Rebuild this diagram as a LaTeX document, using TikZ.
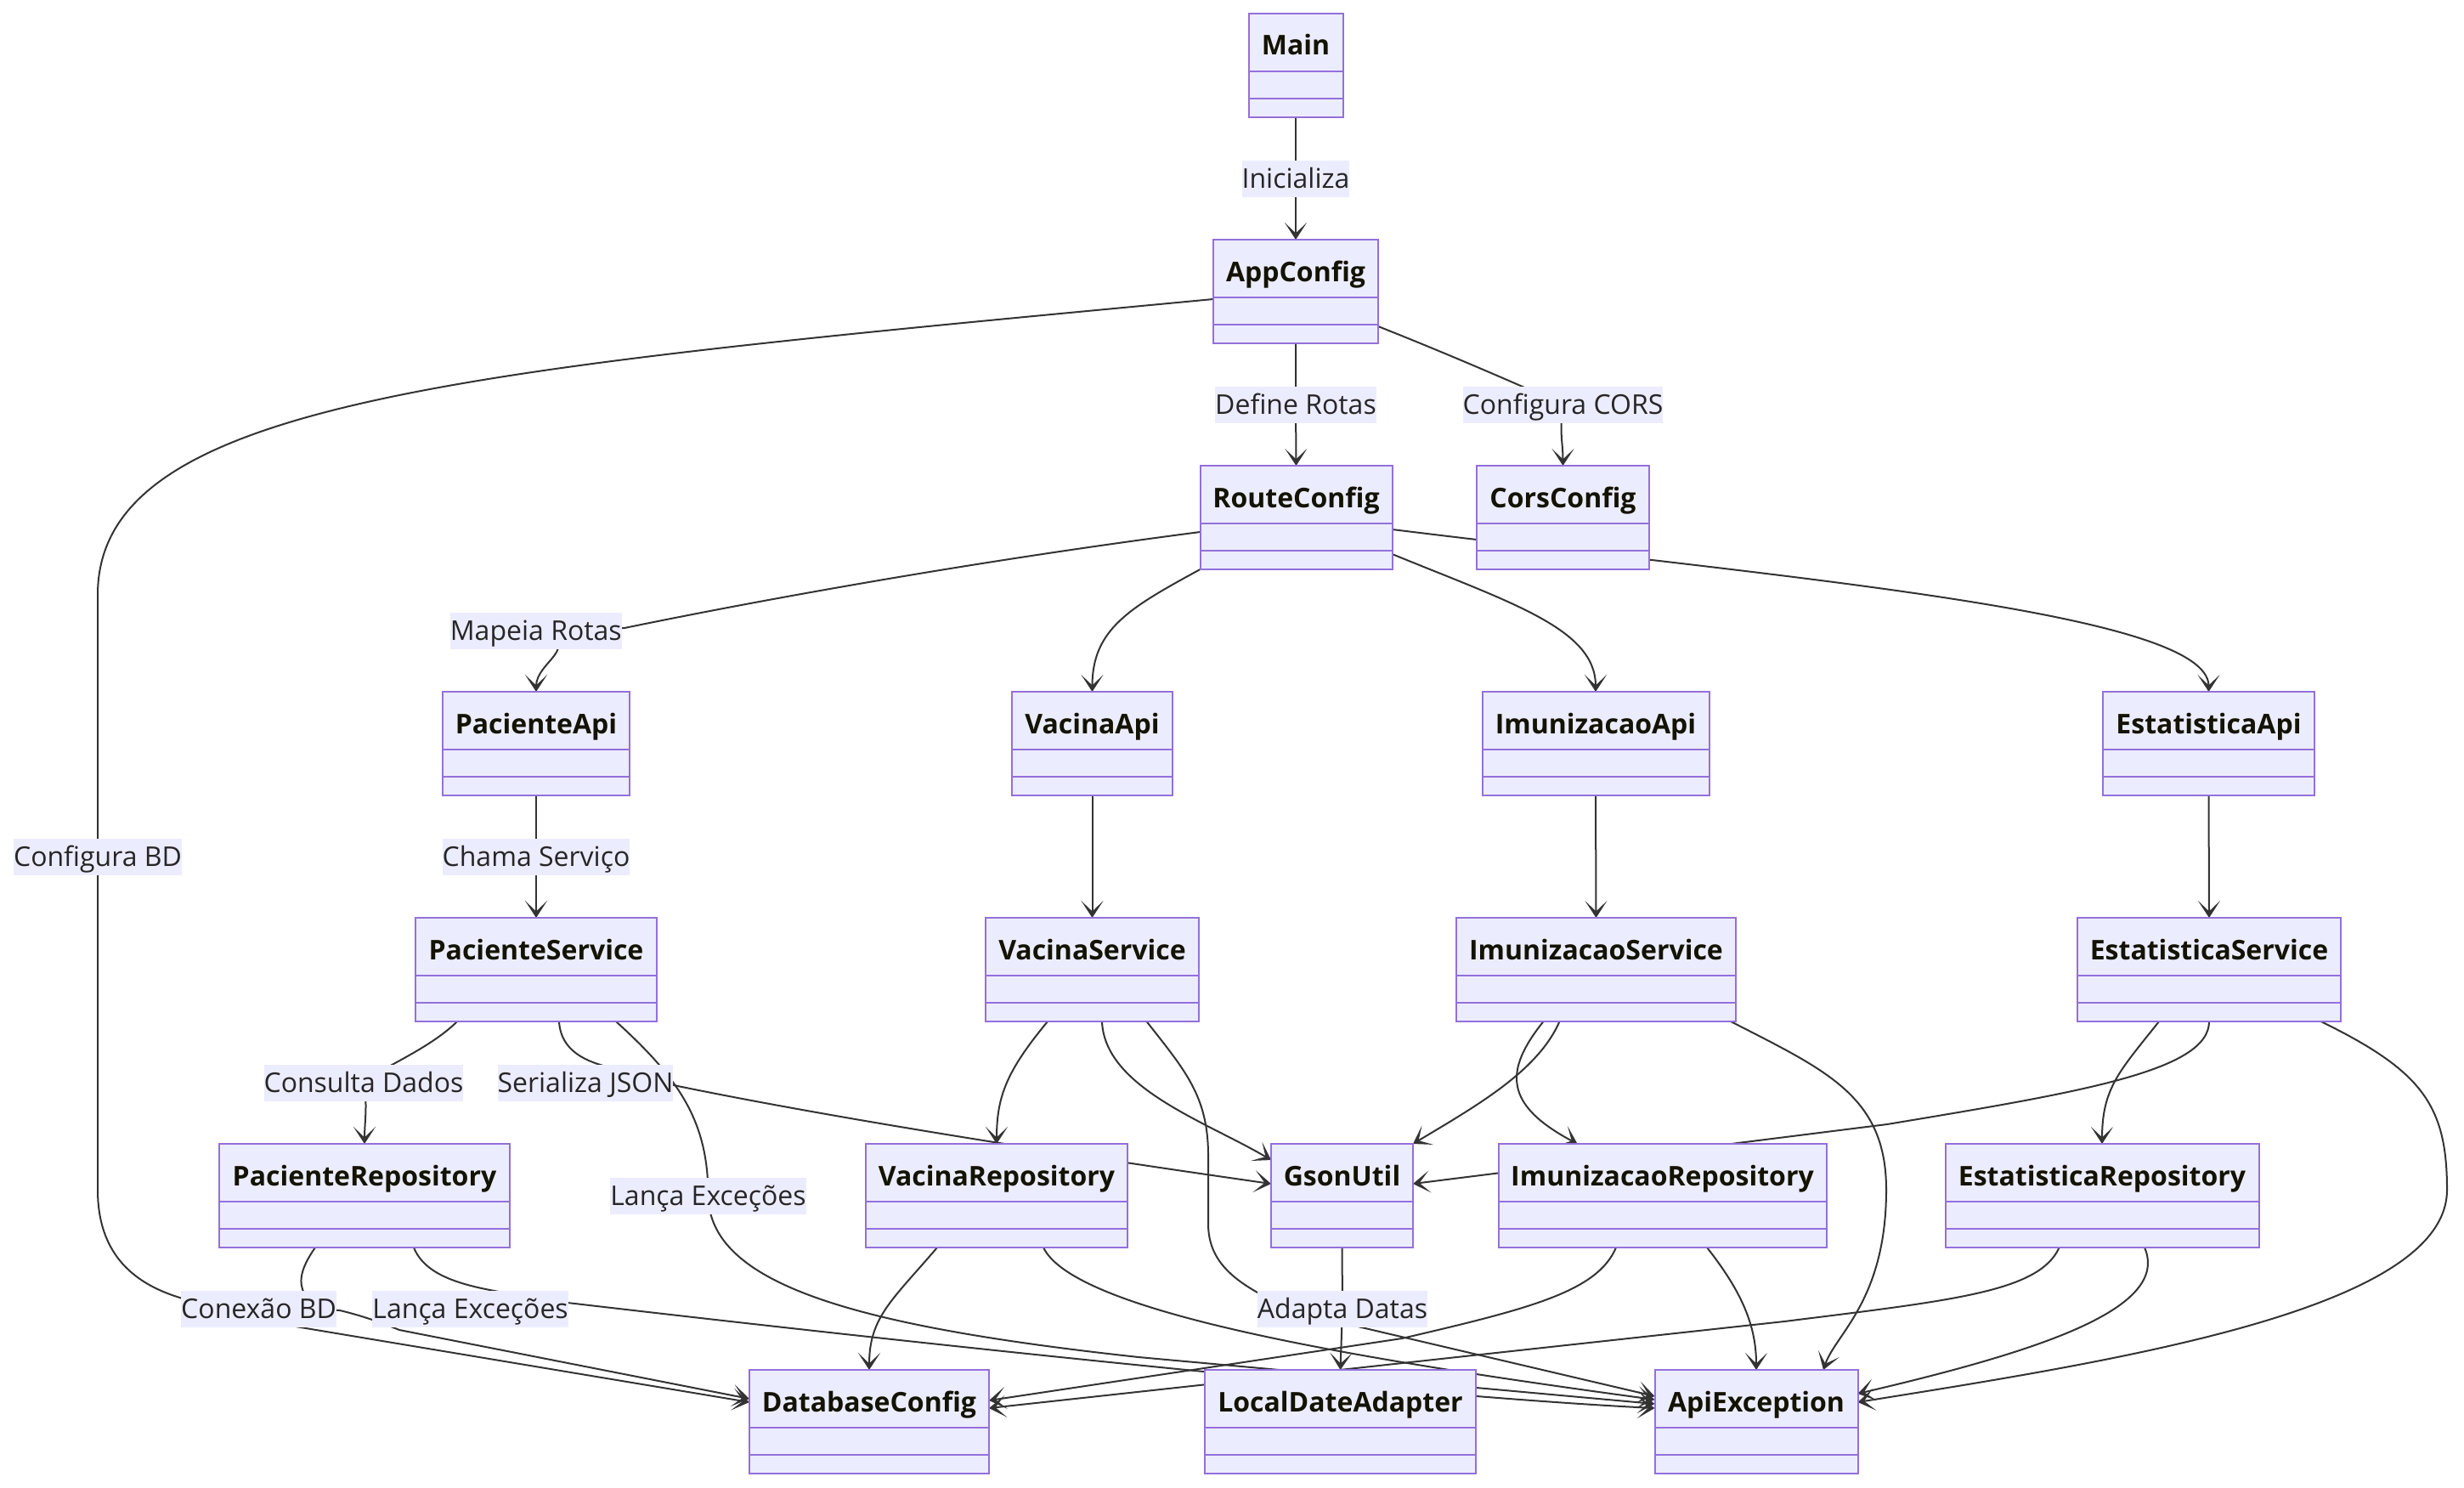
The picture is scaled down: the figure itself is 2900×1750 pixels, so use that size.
\documentclass[tikz,border=0pt]{standalone}
\usepackage{fontspec}
\setmainfont{Open Sans}
\usetikzlibrary{calc,arrows.meta}
\pgfdeclarelayer{bglayer}
\pgfdeclarelayer{edgelayer}
\pgfdeclarelayer{labellayer}
\pgfsetlayers{bglayer,edgelayer,labellayer,main}
\definecolor{boxfill}{HTML}{ECECFF}
\definecolor{boxline}{HTML}{9370DB}
\definecolor{edgecol}{HTML}{333333}
\definecolor{titlecol}{HTML}{131300}
\definecolor{lbltext}{HTML}{262626}
\tikzset{
  clsbox/.style={draw=boxline, fill=boxfill, line width=1pt, minimum height=61pt, inner sep=0pt, outer sep=0pt},
  clsline/.style={draw=boxline, line width=1pt},
  clstitle/.style={inner sep=0pt, text=titlecol, font=\bfseries\fontsize{16pt}{19pt}\selectfont},
  elabel/.style={fill=boxfill, inner sep=0pt, text height=16.6pt, text depth=4.9pt, text=lbltext, font=\fontsize{16pt}{19pt}\selectfont},
  rel/.style={draw=edgecol, line width=1pt, -{Stealth[length=10pt,width=13pt,inset=6.2pt]}}
}
\newcommand\clsnode[5]{%
  \node[clsbox, minimum width=#4*0.5pt, anchor=north] (#1) at (#2,#3) {};
  \draw[clsline] ($(#1.north west)+(0,68)$) -- ($(#1.north east)+(0,68)$);
  \draw[clsline] ($(#1.north west)+(0,100)$) -- ($(#1.north east)+(0,100)$);
  \node[clstitle, anchor=base] (#1-t) at ($(#1.north)+(0,49)$) {#5};
}
\begin{document}
\begin{tikzpicture}[x=0.5pt,y=-0.5pt]
\begin{pgfonlayer}{bglayer}
\fill[white] (0,0) rectangle (2900,1750);
\end{pgfonlayer}
\useasboundingbox (0,0) rectangle (2900,1750);

% class boxes
\clsnode{Main}{1525}{16}{111}{Main}
\clsnode{AC}{1525}{282}{194}{AppConfig}
\clsnode{RC}{1525.5}{548}{226}{RouteConfig}
\clsnode{CC}{1839.5}{548}{203}{CorsConfig}
\clsnode{PA}{631}{814}{220}{PacienteApi}
\clsnode{VA}{1285.5}{814}{189}{VacinaApi}
\clsnode{IA}{1878}{814}{267}{ImunizacaoApi}
\clsnode{EA}{2599.5}{814}{249}{EstatisticaApi}
\clsnode{PS}{631}{1080}{284}{PacienteService}
\clsnode{VS}{1285.5}{1080}{251}{VacinaService}
\clsnode{IS}{1878.5}{1080}{329}{ImunizacaoService}
\clsnode{ES}{2600}{1080}{310}{EstatisticaService}
\clsnode{PR}{429}{1346}{342}{PacienteRepository}
\clsnode{VR}{1173}{1346}{308}{VacinaRepository}
\clsnode{GU}{1579.5}{1346}{167}{GsonUtil}
\clsnode{IR}{1956.5}{1346}{386}{ImunizacaoRepository}
\clsnode{ER}{2474}{1346}{369}{EstatisticaRepository}
\clsnode{DB}{1023}{1612}{282}{DatabaseConfig}
\clsnode{LD}{1577.5}{1612}{319}{LocalDateAdapter}
\clsnode{AE}{2067}{1612}{239}{ApiException}

% edge labels
\begin{pgfonlayer}{labellayer}
\node[elabel] (lInit) at (1525,210) {Inicializa};
\node[elabel] (lDef) at (1525,476) {Define Rotas};
\node[elabel] (lCors) at (1839.5,476) {Configura CORS};
\node[elabel] (lCfgBD) at (115,1008) {Configura BD};
\node[elabel] (lMap) at (630.8,742) {Mapeia Rotas};
\node[elabel] (lCham) at (631,1008) {Chama Serviço};
\node[elabel] (lCons) at (428,1274) {Consulta Dados};
\node[elabel] (lSer) at (689,1274) {Serializa JSON};
\node[elabel] (lLanS) at (833.5,1407) {Lança Exceções};
\node[elabel] (lCon) at (304.6,1540) {Conexão BD};
\node[elabel] (lLanR) at (553.6,1540) {Lança Exceções};
\node[elabel] (lAda) at (1580,1540) {Adapta Datas};
\end{pgfonlayer}

% connectors
\begin{pgfonlayer}{edgelayer}
\draw[rel] (Main.south) -- (lInit.center) -- (AC.north);
\draw[rel] (AC.south) -- (lDef.center) -- (RC.north);
\draw[rel] ($(AC.east)+(0,41)$) .. controls (1700,415) and (1770,445) .. (lCors.center) .. controls (1835,510) and (1839.5,520) .. (CC.north);
\draw[rel] ($(AC.west)+(0,9)$) .. controls (550,435) and (115,470) .. (115,700) -- (lCfgBD.center) -- (115,1400) .. controls (115,1478) and (160,1512) .. (215,1528) -- (400,1542) .. controls (425,1548) and (445,1555) .. (470,1565) -- ($(DB.west)+(0,-27)$);
\draw[rel] ($(RC.west)+(0,17)$) .. controls (1150,660) and (900,705) .. (735,739) -- (lMap.center) .. controls (690,760) and (631,778) .. (PA.north);
\draw[rel] (RC.south west) .. controls (1330,715) and (1285.5,740) .. (VA.north);
\draw[rel] ($(RC.east)+(0,43)$) .. controls (1780,710) and (1878,740) .. (IA.north);
\draw[rel] ($(RC.east)+(0,14)$) .. controls (2100,680) and (2599.5,720) .. (EA.north);
\draw[rel] (PA.south) -- (lCham.center) -- (PS.north);
\draw[rel] (VA.south) -- (VS.north);
\draw[rel] (IA.south) -- (IS.north);
\draw[rel] (EA.south) -- (ES.north);
\draw[rel] ($(PS.south)+(-93,0)$) .. controls (505,1235) and (445,1258) .. (lCons.center) .. controls (433,1300) and (429,1320) .. (PR.north);
\draw[rel] ($(PS.south)+(27,0)$) .. controls (660,1237) and (690,1250) .. (722,1257) -- (lSer.center) -- (788,1276) .. controls (1000,1320) and (1300,1365) .. ($(GU.west)+(0,-14)$);
\draw[rel] ($(PS.south)+(94,0)$) .. controls (800,1270) and (833.5,1320) .. (lLanS.center) .. controls (835,1510) and (1000,1560) .. (1340,1597) -- ($(AE.west)+(0,-21)$);
\draw[rel] ($(VS.south)+(-52.5,0)$) .. controls (1185,1260) and (1173,1290) .. (VR.north);
\draw[rel] ($(VS.south)+(11.5,0)$) .. controls (1300,1280) and (1420,1320) .. ($(GU.west)+(0,-42)$);
\draw[rel] ($(VS.south)+(64,0)$) .. controls (1395,1260) and (1422,1290) .. (1422,1360) -- (1422,1440) .. controls (1422,1490) and (1460,1515) .. (1530,1545) -- ($(AE.west)+(0,-30)$);
\draw[rel] ($(IS.south)+(-62,0)$) .. controls (1770,1260) and (1770,1300) .. ($(IR.north)+(-100,0)$);
\draw[rel] ($(IS.south)+(-43,0)$) .. controls (1810,1260) and (1740,1300) .. (GU.north east);
\draw[rel] ($(IS.south)+(158.5,0)$) .. controls (2150,1260) and (2220,1290) .. (2220,1400) .. controls (2220,1530) and (2160,1570) .. ($(AE.north)+(79,0)$);
\draw[rel] ($(ES.south)+(-59,0)$) .. controls (2495,1260) and (2474,1280) .. (ER.north);
\draw[rel] (ES.south) .. controls (2600,1260) and (2450,1285) .. (2221,1323) -- ($(GU.east)+(0,-14)$);
\draw[rel] ($(ES.south)+(131.6,0)$) .. controls (2850,1260) and (2880,1300) .. (2880,1400) .. controls (2880,1540) and (2500,1600) .. ($(AE.east)+(0,-23)$);
\draw[rel] ($(PR.south)+(-58,0)$) .. controls (352,1495) and (352,1510) .. (358,1522) -- (lCon.center) -- (330,1558) -- ($(DB.west)+(0,-23)$);
\draw[rel] ($(PR.south)+(58,0)$) .. controls (500,1500) and (540,1512) .. (593,1521) -- (lLanR.center) -- (668,1533) .. controls (1200,1595) and (1700,1645) .. ($(AE.west)+(0,-16)$);
\draw[rel] ($(VR.south)+(-70,0)$) .. controls (1050,1530) and (1023,1550) .. (DB.north);
\draw[rel] ($(VR.south)+(55,0)$) .. controls (1265,1545) and (1600,1600) .. ($(AE.west)+(0,-26)$);
\draw[rel] ($(IR.south)+(-54.5,0)$) .. controls (1880,1520) and (1800,1540) .. (1650,1575) -- ($(DB.east)+(0,-25)$);
\draw[rel] ($(IR.south)+(52.5,0)$) .. controls (2050,1520) and (2067,1560) .. (AE.north);
\draw[rel] ($(ER.south)+(-50.4,0)$) .. controls (2400,1520) and (2300,1530) .. (2100,1555) -- ($(DB.east)+(0,-16)$);
\draw[rel] ($(ER.south)+(50,0)$) .. controls (2555,1540) and (2400,1590) .. ($(AE.east)+(0,-33)$);
\draw[rel] (GU.south) -- (lAda.center) -- (LD.north);
\end{pgfonlayer}
\end{tikzpicture}
\end{document}
